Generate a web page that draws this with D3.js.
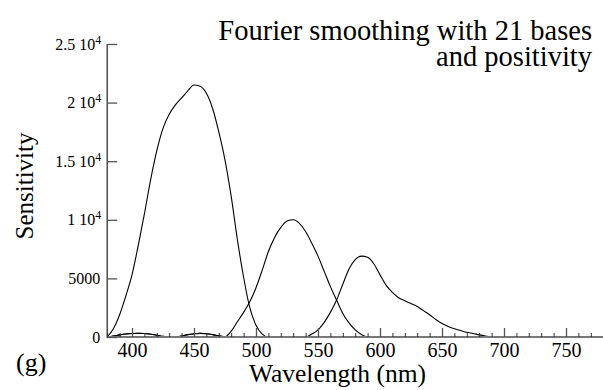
<!DOCTYPE html>
<html>
<head>
<meta charset="utf-8">
<script src="https://cdn.jsdelivr.net/npm/d3@7"></script>
</head>
<body style="margin:0;background:#fff">
<svg id="chart" width="603" height="390" style="display:block" font-family="Liberation Serif"></svg>
<script>
// ---- data ----
const wavelengths = [380,385,390,395,400,405,410,415,420,425,430,435,440,445,450,455,460,465,470,475,
  480,485,490,495,500,505,510,515,520,525,530,535,540,545,550,555,560,565,570,575,
  580,585,590,595,600,605,610,615,620,625,630,635,640,645,650,655,660,665,670,675,
  680,685,690,695,700];
const sCone = [0,700,1900,3500,5300,7800,10500,13400,15900,17800,19000,19800,20400,21000,21500,21400,20800,19500,17500,15100,
  12000,8300,5100,2500,1000,250,0,0,0,0,0,0,0,0,0,0,0,0,0,0,
  0,0,0,0,0,0,0,0,0,0,0,0,0,0,0,0,0,0,0,0,
  0,0,0,0,0];
const mCone = [0,80,180,260,300,310,300,240,150,50,0,20,80,200,280,310,280,200,100,30,
  500,1300,2100,3000,4200,5700,7300,8500,9350,9900,10000,9700,9000,8000,6900,5600,4300,3150,2000,1200,
  600,220,0,0,0,0,0,0,0,0,0,0,0,0,0,0,0,0,0,0,
  0,0,0,0,0];
const lCone = [0,80,180,260,300,310,300,240,150,50,0,20,80,200,280,310,280,200,100,20,
  0,0,0,0,0,0,0,0,0,0,0,0,0,250,600,1250,2100,3150,4500,5800,
  6600,6900,6800,6250,5300,4400,3800,3350,3100,2850,2600,2250,1900,1500,1150,900,700,550,400,300,
  180,90,30,0,0];
const xMajorTicks = [400,450,500,550,600,650,700,750];
const xMinorTicks = [380,390,400,410,420,430,440,450,460,470,480,490,500,510,520,530,540,550,560,570,580,590,600,610,620,630,640,650,660,670,680,690,700,710,720,730,740,750,760,770,780];
const yTicks = [0,5000,10000,15000,20000,25000];
const yTickLabels = [["0",null],["5000",null],["1 10","4"],["1.5 10","4"],["2 10","4"],["2.5 10","4"]];
const titleLines = ["Fourier smoothing with 21 bases", "and positivity"];
const xLabel = "Wavelength (nm)";
const yLabel = "Sensitivity";
const panelLabel = "(g)";

// ---- layout ----
const FAM = "Liberation Serif";
const svg = d3.select("#chart");
const x0 = 107.2, y0 = 337;
const x = d3.scaleLinear().domain([380, 790]).range([x0, x0 + 410 * 1.24]);
const y = d3.scaleLinear().domain([0, 25000]).range([y0, 44]);

// curves
const series = [sCone, mCone, lCone];
const line = d3.line()
  .x((d, i) => x(wavelengths[i]))
  .y(d => y(d))
  .curve(d3.curveMonotoneX);
svg.append("g").selectAll("path").data(series).join("path")
  .attr("d", d => line(d))
  .attr("fill", "none")
  .attr("stroke", "#000")
  .attr("stroke-width", 1.1);

// x axis
const gx = svg.append("g").attr("transform", `translate(0,${y0})`);
gx.append("line").attr("x1", x0).attr("x2", 603).attr("y1", 0).attr("y2", 0)
  .attr("stroke", "#777").attr("stroke-width", 2);
gx.append("g").call(d3.axisBottom(x).tickValues(xMinorTicks).tickSizeInner(-4).tickSizeOuter(0).tickFormat(""))
  .attr("font-family", FAM)
  .call(g => g.select(".domain").remove())
  .call(g => g.selectAll(".tick text").remove())
  .call(g => g.selectAll(".tick line").attr("stroke", "#333"));
gx.append("g").call(d3.axisBottom(x).tickValues(xMajorTicks).tickSizeInner(-9).tickSizeOuter(0).tickPadding(6).tickFormat(d3.format("d")))
  .attr("font-family", FAM).attr("font-size", 20)
  .call(g => g.select(".domain").remove())
  .call(g => g.selectAll(".tick line").attr("stroke", "#555").attr("stroke-width", 1.3))
  .call(g => g.selectAll(".tick text").attr("font-family", FAM).attr("font-size", 20).attr("fill", "#000"));

// y axis
const gy = svg.append("g").attr("transform", `translate(${x0},0)`);
gy.append("line").attr("x1", 0).attr("x2", 0).attr("y1", y(0) + 1).attr("y2", y(25000))
  .attr("stroke", "#333").attr("stroke-width", 1.3);
const yAxis = d3.axisLeft(y).tickValues(yTicks).tickSizeInner(-10).tickSizeOuter(0).tickPadding(6).tickFormat("");
gy.append("g").call(yAxis)
  .attr("font-family", FAM).attr("font-size", 16)
  .call(g => g.select(".domain").remove())
  .call(g => g.selectAll(".tick line").attr("stroke", "#555").attr("stroke-width", 1.3))
  .call(g => g.selectAll(".tick").each(function(d, i) {
    const lab = yTickLabels[i];
    const t = d3.select(this).select("text")
      .attr("font-family", FAM).attr("font-size", 16).attr("fill", "#000")
      .attr("x", lab[1] ? -6 : -7);
    t.text(null);
    t.append("tspan").text(lab[0]);
    if (lab[1]) t.append("tspan").attr("font-size", 12).attr("dy", "-0.5em").text(lab[1]);
  }));

// title
svg.append("g").selectAll("text").data(titleLines).join("text")
  .attr("x", 592).attr("y", (d, i) => 39.5 + i * 26)
  .attr("text-anchor", "end").attr("font-size", 28.5).attr("font-family", FAM)
  .text(d => d);

// axis labels
svg.append("text").attr("x", 337.5).attr("y", 382).attr("text-anchor", "middle")
  .attr("font-size", 25.5).attr("font-family", FAM).text(xLabel);
svg.append("text").attr("transform", "translate(33,186) rotate(-90)").attr("text-anchor", "middle")
  .attr("font-size", 25).attr("font-family", FAM).text(yLabel);
svg.append("text").attr("x", 16).attr("y", 371).attr("font-size", 26).attr("font-family", FAM).text(panelLabel);
</script>
</body>
</html>
